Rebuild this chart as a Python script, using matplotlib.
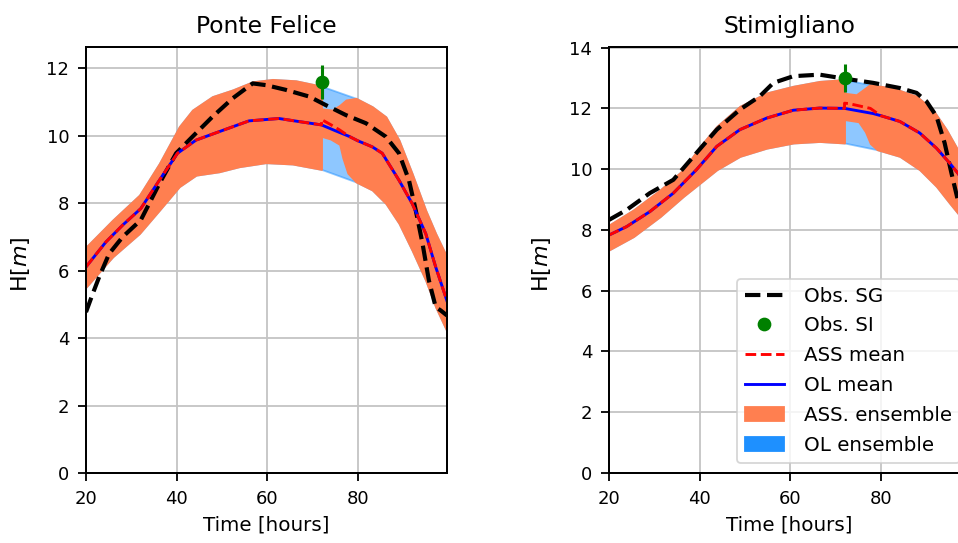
import numpy as np
import matplotlib
matplotlib.use("Agg")
import matplotlib.pyplot as plt
from matplotlib.lines import Line2D
from matplotlib.patches import Patch

# ---------------- data: Ponte Felice ----------------
t_ol_mean1 = [20, 24.4, 28.1, 32.1, 36.2, 40.2, 44.3, 49.4, 56, 62.6, 67, 72, 75, 78.1, 80, 83.2, 85.4, 89.1, 92, 95, 97.2, 99.7]
ol_mean1 = [6.11, 6.85, 7.35, 7.84, 8.68, 9.48, 9.87, 10.12, 10.44, 10.51, 10.42, 10.32, 10.15, 9.98, 9.85, 9.67, 9.48, 8.68, 7.99, 7.10, 6.11, 5.1]
t_ol_up1 = [20, 25.9, 31.8, 36.2, 40.6, 43.5, 47.9, 52.4, 56.8, 61.2, 66.3, 72, 79.6, 83.2, 86.2, 89.1, 92, 95, 97.2, 99.7]
ol_up1 = [6.70, 7.50, 8.24, 9.18, 10.27, 10.76, 11.16, 11.36, 11.60, 11.67, 11.63, 11.47, 11.11, 10.86, 10.56, 9.87, 8.88, 7.79, 7.10, 6.4]
t_ol_lo1 = [20, 25.9, 31.8, 36.2, 40.6, 44.3, 49.4, 53.8, 59.7, 65.6, 72, 79.6, 83.2, 86.2, 89.1, 92, 95, 97.2, 99.7]
ol_lo1 = [5.51, 6.41, 7.10, 7.79, 8.49, 8.83, 8.93, 9.08, 9.20, 9.16, 9.0, 8.63, 8.39, 7.99, 7.40, 6.60, 5.71, 4.92, 4.2]
# assimilation-run values after the update at t = 72 h
t_ass_mean1 = [72, 74, 76, 78.1]
ass_mean1 = [10.48, 10.33, 10.17, 9.98]
t_ass_up1 = [72, 74.4, 76, 77.4, 79.6]
ass_up1 = [10.80, 10.76, 10.90, 11.06, 11.11]
t_ass_lo1 = [72, 74, 76, 76.7, 77.8, 79.6]
ass_lo1 = [9.98, 9.90, 9.74, 9.34, 8.89, 8.63]
t_obs1 = [20, 21.5, 22.9, 25.1, 28.1, 32.1, 36.2, 39.9, 43.5, 47.9, 52.4, 56.8, 59.7, 64.1, 69.3, 72.9, 77.4, 81.8, 86.2, 89.1, 91.3, 92.8, 94.3, 95.7, 97.2, 98.3, 99.7]
obs1 = [4.77, 5.32, 5.81, 6.50, 7.0, 7.50, 8.58, 9.48, 9.97, 10.56, 11.11, 11.55, 11.50, 11.36, 11.16, 10.91, 10.61, 10.37, 9.97, 9.48, 8.68, 7.79, 6.80, 5.71, 4.92, 4.82, 4.67]
t_si1, si1, si_err1 = [72], [11.60], [0.5]

# ---------------- data: Stimigliano ----------------
t_ol_mean2 = [20, 23.9, 29, 34.2, 39.3, 43.8, 48.9, 54.8, 60.7, 66.5, 72, 78.3, 80, 84.2, 88.6, 92.3, 95.2, 97, 99.7]
ol_mean2 = [7.83, 8.11, 8.60, 9.21, 9.98, 10.75, 11.30, 11.68, 11.94, 12.01, 12.00, 11.83, 11.76, 11.57, 11.19, 10.69, 10.20, 9.87, 9.3]
t_ol_up2 = [20, 25.4, 31.3, 36.4, 40.1, 43.8, 48.9, 54.8, 60.7, 66.5, 72, 77.6, 82.7, 87.9, 91.5, 94.5, 97, 99.7]
ol_up2 = [8.16, 8.66, 9.32, 9.98, 10.75, 11.41, 12.07, 12.51, 12.73, 12.89, 12.95, 12.78, 12.67, 12.40, 11.96, 11.30, 10.64, 9.9]
t_ol_lo2 = [20, 25.4, 31.3, 36.4, 40.1, 43.8, 48.9, 54.8, 60.7, 66.5, 72, 79.2, 84.2, 88.6, 92.3, 95.2, 97, 99.7]
ol_lo2 = [7.34, 7.78, 8.44, 9.10, 9.54, 9.98, 10.42, 10.69, 10.86, 10.91, 10.86, 10.64, 10.42, 9.98, 9.43, 8.88, 8.55, 8.0]
t_ass_mean2 = [72, 72.9, 77.7, 80]
ass_mean2 = [12.17, 12.16, 12.0, 11.76]
t_ass_up2 = [72, 74.6, 77.6]
ass_up2 = [12.50, 12.45, 12.78]
t_ass_lo2 = [72, 75.1, 76.6, 77.7, 79.2]
ass_lo2 = [11.63, 11.56, 11.23, 10.84, 10.64]
t_obs2 = [20, 23.9, 29, 34.2, 39.3, 43.8, 48.9, 53.3, 56.3, 60.7, 66.5, 72.4, 78.3, 84.2, 87.9, 90.1, 92.3, 94.1, 95.6, 97, 99.7]
obs2 = [8.33, 8.66, 9.21, 9.65, 10.53, 11.30, 11.96, 12.40, 12.84, 13.06, 13.11, 12.97, 12.84, 12.67, 12.51, 12.23, 11.74, 10.86, 9.87, 8.99, 7.6]
t_si2, si2, si_err2 = [72], [13.0], [0.47]

titles = ["Ponte Felice", "Stimigliano"]
ylims = [12.63, 14.02]


def ass_series(t_ol, v_ol, t_post, v_post):
    """Open-loop values up to the update, assimilation values after it,
    open-loop values again once the runs have converged."""
    t_ol = np.asarray(t_ol, float); v_ol = np.asarray(v_ol, float)
    pre = t_ol <= t_post[0]
    post = t_ol > t_post[-1]
    t = np.concatenate([t_ol[pre], t_post, t_ol[post]])
    v = np.concatenate([v_ol[pre], v_post, v_ol[post]])
    return t, v


DPI = 130
fig = plt.figure(figsize=(958 / DPI, 543 / DPI), dpi=DPI)
W, H = 958, 543
ax1 = fig.add_axes([86 / W, 70 / H, 361 / W, 426 / H])
ax2 = fig.add_axes([609 / W, 70 / H, 361 / W, 426 / H])

datasets = [
    (t_ol_mean1, ol_mean1, t_ol_up1, ol_up1, t_ol_lo1, ol_lo1, t_ass_mean1, ass_mean1,
     t_ass_up1, ass_up1, t_ass_lo1, ass_lo1, t_obs1, obs1, t_si1, si1, si_err1),
    (t_ol_mean2, ol_mean2, t_ol_up2, ol_up2, t_ol_lo2, ol_lo2, t_ass_mean2, ass_mean2,
     t_ass_up2, ass_up2, t_ass_lo2, ass_lo2, t_obs2, obs2, t_si2, si2, si_err2),
]
ylabel_x = [-0.150, -0.156]

for ax, d, title, ytop, ylx in zip([ax1, ax2], datasets, titles, ylims, ylabel_x):
    (tm, m, tu, u, tl, l, tam, am, tau, au, tal, al, to, o, ts, s, se) = d
    # OL ensemble band
    tg = np.unique(np.concatenate([np.asarray(tu, float), np.asarray(tl, float)]))
    ax.fill_between(tg, np.interp(tg, tl, l), np.interp(tg, tu, u),
                    color="dodgerblue", alpha=0.5, lw=1)
    # ASS ensemble band: OL band before the update, assimilation band after it
    tU, vU = ass_series(tu, u, tau, au)
    tL, vL = ass_series(tl, l, tal, al)
    tg2 = np.unique(np.concatenate([tU, tL]))
    t_pre = tg2[tg2 < tau[0]]
    t_post = tg2[tg2 >= tau[0]]
    tt = np.concatenate([t_pre, [tau[0]], t_post])
    up_pre = np.interp(np.append(t_pre, tau[0]), tu, u)
    lo_pre = np.interp(np.append(t_pre, tau[0]), tl, l)
    mU = tU >= tau[0]
    mL = tL >= tal[0]
    # drop the duplicated OL point at the update time
    iU = np.where(mU)[0][1:]
    iL = np.where(mL)[0][1:]
    up_post = np.interp(t_post, tU[iU], vU[iU])
    lo_post = np.interp(t_post, tL[iL], vL[iL])
    ax.fill_between(tt, np.concatenate([lo_pre, lo_post]), np.concatenate([up_pre, up_post]),
                    color="coral", lw=1)
    # observations at gauge
    ax.plot(to, o, "k--", lw=2.3)
    # OL mean, ASS mean
    ax.plot(tm, m, "b-", lw=1.6)
    tA, vA = ass_series(tm, m, tam, am)
    ax.plot(tA, vA, "r--", lw=1.6)
    # satellite observation
    ax.errorbar(ts, s, yerr=se, fmt="none", ecolor="green", elinewidth=1.7)
    ax.plot(ts, s, "o", color="green", ms=6.6)

    ax.set_xlim(20, 99.7)
    ax.set_ylim(0, ytop)
    ax.set_xticks([20, 40, 60, 80])
    ax.set_yticks(np.arange(0, ytop, 2))
    ax.set_axisbelow(True)
    ax.grid(True, color="#c4c4c4", lw=1.0)
    ax.tick_params(labelsize=10, width=1.0, length=4.5, pad=4.8)
    for sp in ax.spines.values():
        sp.set_linewidth(1.1)
    ax.set_title(title, fontsize=13, pad=8)
    ax.set_xlabel("Time [hours]", fontsize=11)
    ax.set_ylabel("H[$m$]", fontsize=12.3)
    ax.yaxis.set_label_coords(ylx, 0.49)

handles = [
    Line2D([], [], color="k", ls="--", lw=2.3),
    Line2D([], [], color="green", marker="o", ls="none", ms=6.6),
    Line2D([], [], color="r", ls="--", lw=1.6),
    Line2D([], [], color="b", ls="-", lw=1.6),
    Patch(facecolor="coral", edgecolor="coral"),
    Patch(facecolor="dodgerblue", edgecolor="dodgerblue"),
]
labels = ["Obs. SG", "Obs. SI", "ASS mean", "OL mean", "ASS. ensemble", "OL ensemble"]
ax2.legend(handles, labels, loc="lower right", fontsize=11, labelspacing=0.55,
           handletextpad=1.0)

fig.savefig("out.png", dpi=DPI)
